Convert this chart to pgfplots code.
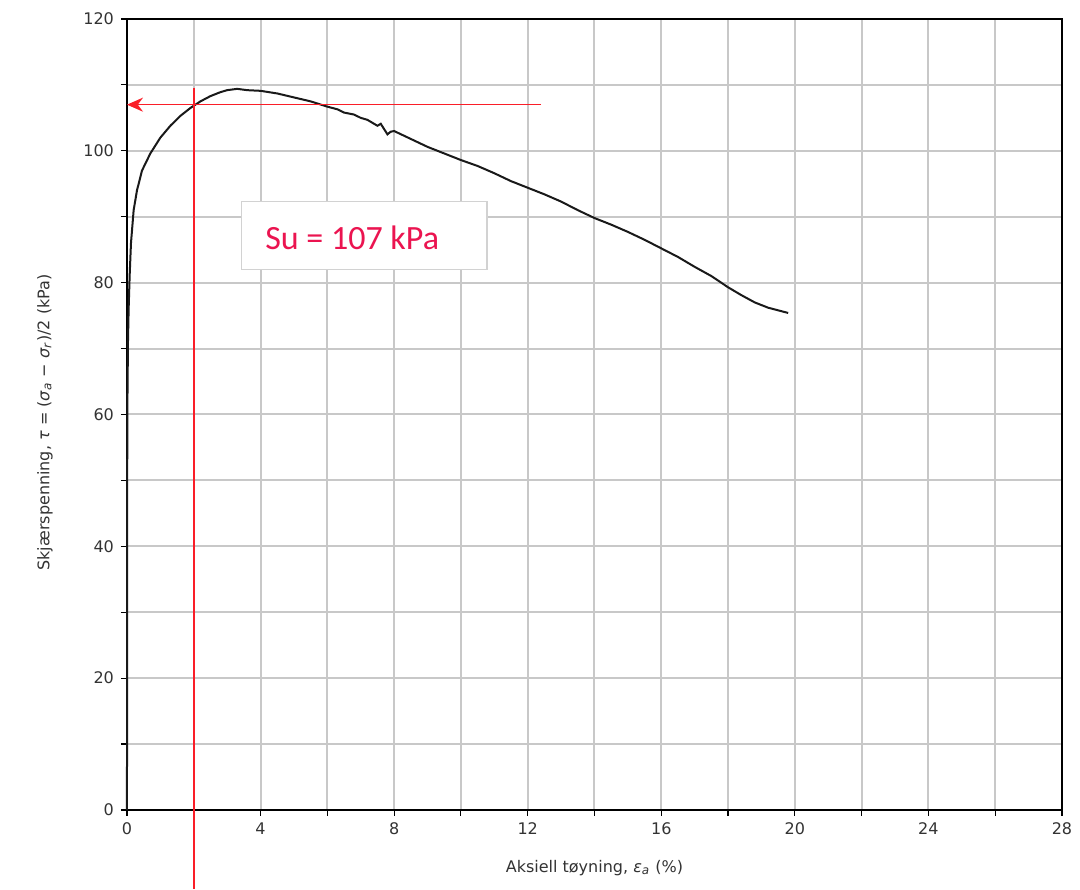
\documentclass[border=0pt]{standalone}
\usepackage{fontspec}
\setmainfont{DejaVu Sans}
\newfontfamily\calib{Carlito}
\usepackage{pgfplots}
\pgfplotsset{compat=1.18}
\usetikzlibrary{arrows.meta}
\definecolor{gridc}{RGB}{200,200,200}
\definecolor{sured}{RGB}{235,20,80}
\definecolor{lred}{RGB}{250,30,40}
\begin{document}
\begin{tikzpicture}
\begin{axis}[
 scale only axis, width=467.5pt, height=395.5pt,
 xmin=0,xmax=28,ymin=0,ymax=120,
 xtick={0,4,...,28}, minor xtick={2,6,...,26},
 ytick={0,20,...,120}, minor ytick={10,30,...,110},
 grid=both,
 major grid style={gridc, line width=1pt},
 minor grid style={gridc, line width=1pt},
 tick align=outside, tick pos=left,
 major tick length=3pt, minor tick length=3pt,
 tick style={black, line width=0.6pt},
 axis line style={black, line width=1pt},
 ticklabel style={font=\fontsize{8}{9}\selectfont, text=black!80},
 /pgf/number format/assume math mode=true,
 label style={font=\fontsize{8}{9}\selectfont, text=black!80},
 xlabel={Aksiell tøyning, \textit{ε}\textsubscript{\textit{a}} (\%)},
 ylabel={Skjærspenning, \textit{τ} = (\textit{σ}\textsubscript{\textit{a}} − \textit{σ}\textsubscript{\textit{r}})/2 (kPa)},
 xlabel style={at={(axis description cs:0.5,-0.0733)}, anchor=center},
 ylabel style={at={(axis description cs:-0.0877,0.49)}, anchor=center},
 clip=false,
]
\path (rel axis cs:-0.1358,-0.0999) rectangle (rel axis cs:1.0193,1.024);
\addplot[color=black!90, line width=1pt] coordinates {
(0,0) (0.005,40) (0.01,60) (0.03,71) (0.05,76) (0.08,81) (0.12,86) (0.2,91) (0.3,94) (0.45,97)
(0.7,99.6) (1.0,102) (1.3,103.8) (1.6,105.3) (1.9,106.5) (2.2,107.5) (2.5,108.3) (2.8,108.9)
(3.0,109.2) (3.3,109.4) (3.6,109.2) (4.0,109.1) (4.5,108.7) (5.0,108.1) (5.5,107.5) (6.0,106.7)
(6.3,106.3) (6.5,105.8) (6.8,105.5) (7.0,105.0) (7.2,104.7) (7.4,104.1) (7.5,103.8) (7.6,104.1)
(7.7,103.3) (7.8,102.5) (7.9,102.9) (8.0,103.0) (8.5,101.8) (9.0,100.6) (9.5,99.6) (10.0,98.6)
(10.5,97.7) (11.0,96.6) (11.5,95.4) (12.0,94.4) (12.5,93.4) (13.0,92.3) (13.5,91.0) (14.0,89.8)
(14.5,88.8) (15.0,87.7) (15.5,86.5) (16.0,85.2) (16.5,83.9) (17.0,82.4) (17.5,81.0) (18.0,79.3)
(18.4,78.1) (18.8,77.0) (19.2,76.2) (19.8,75.4)
};
\addplot[color=lred, line width=0.8pt, -{Stealth[length=8pt,width=7pt]}] coordinates {(12.4,107) (0,107)};
\addplot[color=lred, line width=0.8pt] coordinates {(2,109.6) (2,50) (2,-12)};
\draw[gray!35, fill=white, line width=0.6pt] (axis cs:3.44,82) rectangle (axis cs:10.78,92.3);
\node[anchor=base west, text=sured, font=\calib\fontsize{17}{20}\selectfont, inner sep=0pt] at (axis cs:4.13,85.0) {Su = 107 kPa};
\end{axis}
\end{tikzpicture}
\end{document}
